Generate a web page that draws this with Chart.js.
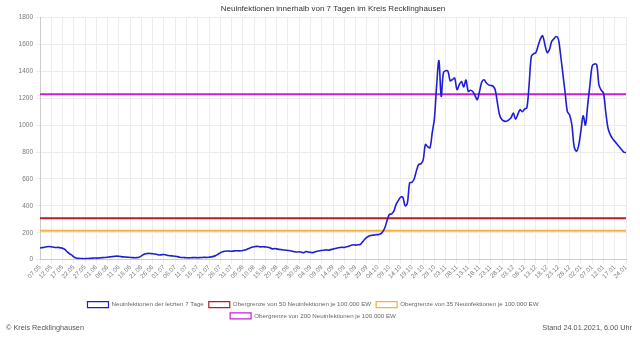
<!DOCTYPE html>
<html lang="de">
<head>
<meta charset="utf-8">
<script src="https://cdn.jsdelivr.net/npm/chart.js@4.4.1/dist/chart.umd.min.js"></script>
<style>
  html, body { margin: 0; padding: 0; background: #fff; }
  #wrap { position: relative; width: 640px; height: 340px; font-family: "Liberation Sans", Arial, sans-serif; }
  #box { position: absolute; left: 0; top: 0; width: 640px; height: 329px; }
  .foot { position: absolute; top: 323px; font-size: 7.3px; color: #555; line-height: 10px; }
  #copy { left: 6px; }
  #stand { right: 8px; }
</style>
</head>
<body>
<div id="wrap">
  <div id="box"><canvas id="c"></canvas></div>
  <div class="foot" id="copy">© Kreis Recklinghausen</div>
  <div class="foot" id="stand">Stand 24.01.2021, 6.00 Uhr</div>
</div>
<script>
// Reporting days, 07.05.2020 – 24.01.2021 (days without a report are skipped)
const firstDay = new Date(2020, 4, 7);
const lastDay = new Date(2021, 0, 24);
const daysWithoutReport = ["20.01", "21.01"];

// Weekly new infections (7-day sum), one value per reporting day
const cases7d = [
  86, 89, 92, 95, 97, 95, 92, 90, 91, 88,
  85, 76, 60, 45, 35, 20, 12, 9, 8, 7,
  7, 8, 9, 10, 12, 11, 12, 14, 15, 16,
  18, 20, 22, 24, 26, 25, 22, 20, 19, 18,
  16, 15, 14, 15, 18, 28, 38, 44, 46, 45,
  44, 42, 38, 34, 36, 38, 34, 30, 28, 27,
  25, 22, 18, 16, 15, 14, 13, 14, 15, 15,
  14, 15, 16, 17, 16, 18, 20, 24, 30, 40,
  50, 58, 62, 64, 63, 62, 64, 66, 65, 66,
  68, 72, 78, 85, 92, 96, 98, 97, 95, 96,
  94, 92, 88, 80, 82, 80, 76, 74, 72, 70,
  68, 66, 62, 58, 56, 58, 55, 52, 60, 56,
  54, 52, 58, 62, 66, 68, 70, 72, 70, 74,
  78, 82, 86, 90, 92, 90, 96, 100, 106, 110,
  108, 110, 112, 130, 150, 165, 176, 180, 182, 185,
  186, 190, 205, 237, 290, 335, 340, 360, 411, 440,
  465, 462, 400, 420, 571, 575, 600, 660, 707, 712,
  740, 856, 840, 831, 940, 1050, 1300, 1480, 1214, 1390,
  1405, 1400, 1330, 1340, 1350, 1264, 1300, 1325, 1285, 1335,
  1251, 1260, 1250, 1220, 1190, 1250, 1320, 1338, 1315, 1300,
  1295, 1290, 1260, 1160, 1070, 1040, 1030, 1029, 1040, 1055,
  1090, 1045, 1080, 1115, 1100, 1120, 1128, 1300, 1511, 1530,
  1540, 1590, 1640, 1665, 1600, 1540, 1560, 1622, 1642, 1659,
  1640, 1520, 1380, 1239, 1100, 1075, 1000, 840, 806, 850,
  960, 1070, 1000, 1150, 1300, 1440, 1455, 1450, 1300, 1260,
  1239, 1100, 979, 930, 900, 880, 860, 840, 819, 800,
  795
];

// Thresholds for the district (per 100 000 inhabitants, scaled to the population)
const limit50 = 307.5;
const limit35 = 215.3;
const limit200 = 1230;

const seriesNames = [
  "Neuinfektionen der letzten 7 Tage",
  "Obergrenze von 50 Neuinfektionen je 100.000 EW",
  "Obergrenze von 35 Neuinfektionen je 100.000 EW",
  "Obergrenze von 200 Neuinfektionen je 100.000 EW"
];
const yTicks = [0, 200, 400, 600, 800, 1000, 1200, 1400, 1600, 1800];

// Build the dd.mm category labels
const pad = n => String(n).padStart(2, "0");
const days = [];
for (let d = new Date(firstDay); d <= lastDay; d.setDate(d.getDate() + 1)) {
  const s = pad(d.getDate()) + "." + pad(d.getMonth() + 1);
  if (!daysWithoutReport.includes(s)) days.push(s);
}
const lastIdx = days.length - 1;

const flat = v => [{ x: days[0], y: v }, { x: days[lastIdx], y: v }];
const FONT = "Liberation Sans";

new Chart(document.getElementById("c"), {
  type: "line",
  data: {
    labels: days,
    datasets: [
      { label: seriesNames[0], data: cases7d, borderColor: "rgb(30,30,215)", backgroundColor: "rgba(255,255,255,0)",
        borderWidth: 1.6, pointRadius: 0, tension: 0.35, order: 0 },
      { label: seriesNames[1], data: flat(limit50), borderColor: "rgb(185,30,35)", backgroundColor: "rgba(255,255,255,0)",
        borderWidth: 2, pointRadius: 0, order: 1 },
      { label: seriesNames[2], data: flat(limit35), borderColor: "rgb(245,180,55)", backgroundColor: "rgba(255,255,255,0)",
        borderWidth: 2, pointRadius: 0, order: 2 },
      { label: seriesNames[3], data: flat(limit200), borderColor: "rgb(200,30,215)", backgroundColor: "rgba(255,255,255,0)",
        borderWidth: 2, pointRadius: 0, order: 3 }
    ]
  },
  options: {
    responsive: true,
    maintainAspectRatio: false,
    animation: false,
    layout: { padding: { left: 0, right: 14, top: 0, bottom: 0 } },
    plugins: {
      title: { display: true, fullSize: false, text: "Neuinfektionen innerhalb von 7 Tagen im Kreis Recklinghausen",
        color: "#333", font: { family: FONT, size: 8, weight: "normal" }, padding: { top: 4, bottom: 4 } },
      legend: { position: "bottom",
        labels: { boxWidth: 21, boxHeight: 6, color: "#666", padding: 5,
          font: { family: FONT, size: 6.2 },
          generateLabels: chart => Chart.defaults.plugins.legend.labels.generateLabels(chart)
            .map(item => Object.assign(item, { lineWidth: 1.2 })) } },
      tooltip: { enabled: false }
    },
    scales: {
      x: {
        afterFit: s => { s.height = 37; },
        grid: { color: "#ececec", drawTicks: true, tickLength: 4 },
        border: { color: "#ccc" },
        ticks: {
          autoSkip: false, maxRotation: 45, minRotation: 45, color: "#777",
          font: { family: FONT, size: 6.3 }, padding: 0,
          callback: function (v, i) { return (i % 5 === 0 || i === lastIdx) ? days[i] : null; }
        }
      },
      y: {
        min: 0, max: 1800,
        afterFit: s => { s.width = 40; },
        afterBuildTicks: s => { s.ticks = yTicks.map(v => ({ value: v })); },
        grid: { color: "#ececec", tickLength: 4 },
        border: { color: "#ccc" },
        ticks: { color: "#777", font: { family: FONT, size: 6.5 }, padding: 3,
          callback: v => String(v) }
      }
    }
  }
});
</script>
</body>
</html>
